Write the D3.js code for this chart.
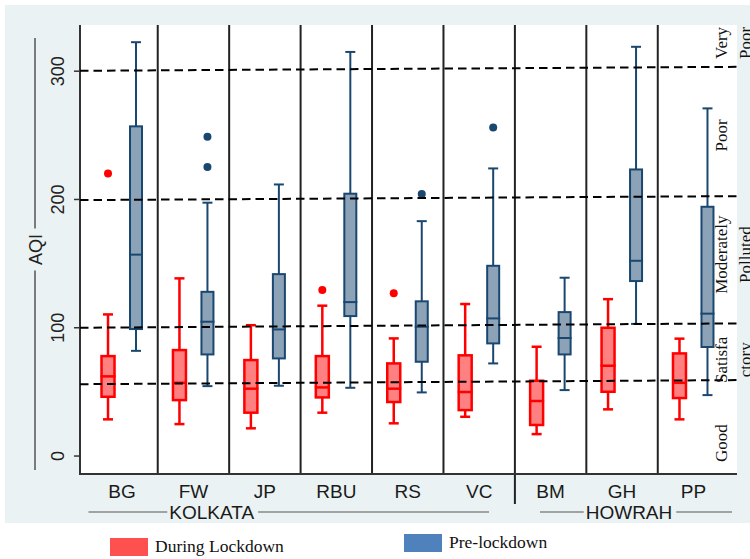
<!DOCTYPE html>
<html>
<head>
<meta charset="utf-8">
<script src="https://cdn.jsdelivr.net/npm/d3@7/dist/d3.min.js"></script>
<style>
  body { margin: 0; background: #fff; }
</style>
</head>
<body>
<div id="chart"></div>
<script>
// monitoring sites, grouped by city
const sites = ['BG', 'FW', 'JP', 'RBU', 'RS', 'VC', 'BM', 'GH', 'PP'];
const siteCity = ['KOLKATA', 'KOLKATA', 'KOLKATA', 'KOLKATA', 'KOLKATA', 'KOLKATA', 'HOWRAH', 'HOWRAH', 'HOWRAH'];
const cities = ['KOLKATA', 'HOWRAH'];

// [lower whisker, Q1, median, Q3, upper whisker]
const duringLockdown = [
    [28.6, 46.2, 62.1, 77.9, 110.4],
    [24.9, 43.6, 57.1, 82.6, 138.5],
    [21.6, 33.8, 52.5, 74.8, 102.0],
    [33.8, 45.7, 53.5, 77.9, 117.2],
    [25.5, 42.1, 52.5, 72.2, 91.7],
    [30.6, 35.8, 49.9, 78.5, 118.5],
    [17.1, 24.2, 42.9, 58.7, 85.2],
    [36.4, 50.1, 70.4, 100.0, 122.3],
    [28.6, 45.2, 57.1, 80.0, 91.5]
];
const preLockdown = [
    [82.0, 99.0, 157.0, 257.0, 322.6],
    [54.5, 79.2, 104.7, 128.0, 197.5],
    [54.8, 76.1, 98.7, 141.8, 211.7],
    [53.2, 109.1, 120.0, 204.5, 315.0],
    [49.6, 73.5, 100.8, 120.6, 183.1],
    [72.2, 87.8, 107.3, 148.3, 224.2],
    [51.4, 79.2, 92.0, 112.2, 139.0],
    [103.0, 136.4, 152.2, 223.4, 319.0],
    [47.5, 85.0, 111.0, 194.3, 271.0]
];
const duringOutliers = [[220.3], [], [], [129.4], [126.8], [], [], [], []];
const preOutliers = [[], [225.4, 248.8], [], [], [204.2], [256.1], [], [], []];

const yTicks = [0, 100, 200, 300];
// AQI category boundaries as drawn (left end, right end)
const refLines = [[56.0, 59.2], [100.0, 103.4], [199.5, 202.6], [300.3, 303.4]];
const bandLabels = [['Very', 'Poor'], ['Poor'], ['Moderately', 'Polluted'], ['Satisfa', 'ctory'], ['Good']];
const bandLabelAt = [322, 250, 157, 75, 10];
const seriesNames = ['During Lockdown', 'Pre-lockdown'];

const width = 750;
const height = 559;
const plot = { left: 80, right: 737, top: 25, bottom: 474 };

const svg = d3.select('#chart')
    .append('svg')
    .attr('width', width)
    .attr('height', height);

// graph region background
svg.append('rect')
    .attr('x', 5).attr('y', 5)
    .attr('width', width - 5).attr('height', 518)
    .attr('fill', '#eaf2f3');

svg.append('rect')
    .attr('x', plot.left).attr('y', plot.top)
    .attr('width', plot.right - plot.left).attr('height', plot.bottom - plot.top)
    .attr('fill', '#fff');

const x = d3.scaleBand()
    .domain(sites)
    .range([86.3, 729.2]);

const y = d3.scaleLinear()
    .domain([-14, 336])
    .range([plot.bottom, plot.top]);

const step = x.step();
const cx = s => x(s) + step / 2;

// separators between sites
svg.append('g')
    .selectAll('line')
    .data(sites.slice(1))
    .join('line')
    .attr('x1', d => x(d)).attr('x2', d => x(d))
    .attr('y1', plot.top)
    .attr('y2', (d, i) => siteCity[i + 1] !== siteCity[i] ? 504 : plot.bottom)
    .attr('stroke', '#222')
    .attr('stroke-width', 2);

// axes lines
svg.append('line')
    .attr('x1', plot.left).attr('x2', plot.left)
    .attr('y1', plot.top).attr('y2', plot.bottom + 1)
    .attr('stroke', '#333').attr('stroke-width', 2);
svg.append('line')
    .attr('x1', plot.left).attr('x2', plot.right)
    .attr('y1', plot.bottom).attr('y2', plot.bottom)
    .attr('stroke', '#333').attr('stroke-width', 2);

// y ticks
const yAxis = svg.append('g');
yAxis.selectAll('line')
    .data(yTicks)
    .join('line')
    .attr('x1', plot.left - 6).attr('x2', plot.left)
    .attr('y1', d => y(d)).attr('y2', d => y(d))
    .attr('stroke', '#333').attr('stroke-width', 1.5);
yAxis.selectAll('text')
    .data(yTicks)
    .join('text')
    .attr('transform', d => `translate(64,${y(d)}) rotate(-90)`)
    .attr('text-anchor', 'middle')
    .style('font-family', 'Arial, "Liberation Sans", sans-serif')
    .style('font-size', '18px')
    .attr('fill', '#222')
    .text(d => d);

// y title with Stata-style rule
const titleY = (plot.top + plot.bottom) / 2;
svg.append('text')
    .attr('transform', `translate(42,${titleY}) rotate(-90)`)
    .attr('text-anchor', 'middle')
    .style('font-family', 'Arial, "Liberation Sans", sans-serif')
    .style('font-size', '18px')
    .attr('fill', '#222')
    .text('AQI');
[[38, titleY - 21], [titleY + 21, 470]].forEach(([a, b]) => {
    svg.append('line')
        .attr('x1', 35).attr('x2', 35)
        .attr('y1', a).attr('y2', b)
        .attr('stroke', '#555').attr('stroke-width', 1.5);
});

// box plots
const series = [
    { stats: duringLockdown, outliers: duringOutliers, offset: -14, stroke: '#ff0000', fill: '#ff8080', sw: 2.5, boxW: 13 },
    { stats: preLockdown, outliers: preOutliers, offset: 14, stroke: '#1a476f', fill: '#8ca3b7', sw: 2, boxW: 12 }
];

series.forEach(s => {
    const g = svg.append('g');
    const rows = sites.map((site, i) => ({ site, st: s.stats[i], out: s.outliers[i] }));
    const box = g.selectAll('g')
        .data(rows)
        .join('g')
        .attr('transform', d => `translate(${cx(d.site) + s.offset},0)`);

    // whiskers
    box.append('line')
        .attr('y1', d => y(d.st[4])).attr('y2', d => y(d.st[3]))
        .attr('stroke', s.stroke).attr('stroke-width', s.sw);
    box.append('line')
        .attr('y1', d => y(d.st[1])).attr('y2', d => y(d.st[0]))
        .attr('stroke', s.stroke).attr('stroke-width', s.sw);
    // caps
    [0, 4].forEach(k => {
        box.append('line')
            .attr('x1', -5).attr('x2', 5)
            .attr('y1', d => y(d.st[k])).attr('y2', d => y(d.st[k]))
            .attr('stroke', s.stroke).attr('stroke-width', s.sw);
    });
    box.append('rect')
        .attr('x', -s.boxW / 2)
        .attr('width', s.boxW)
        .attr('y', d => y(d.st[3]))
        .attr('height', d => y(d.st[1]) - y(d.st[3]))
        .attr('fill', s.fill)
        .attr('stroke', s.stroke)
        .attr('stroke-width', s.sw);
    box.append('line')
        .attr('x1', -s.boxW / 2 - 1).attr('x2', s.boxW / 2 + 1)
        .attr('y1', d => y(d.st[2])).attr('y2', d => y(d.st[2]))
        .attr('stroke', s.stroke).attr('stroke-width', s.sw);
    box.selectAll('circle')
        .data(d => d.out)
        .join('circle')
        .attr('cy', d => y(d))
        .attr('r', 4)
        .attr('fill', s.stroke);
});

// AQI category boundaries
svg.append('g')
    .selectAll('line')
    .data(refLines)
    .join('line')
    .attr('x1', plot.left).attr('x2', plot.right)
    .attr('y1', d => y(d[0])).attr('y2', d => y(d[1]))
    .attr('stroke', '#000')
    .attr('stroke-width', 2)
    .attr('stroke-dasharray', '8.5,5');

// AQI category labels on the right
const bandG = svg.append('g')
    .style('font-family', '"Times New Roman", "Liberation Serif", serif')
    .style('font-size', '17px')
    .attr('fill', '#111');
bandLabels.forEach((lines, i) => {
    lines.forEach((t, j) => {
        bandG.append('text')
            .attr('transform', `translate(${727 + j * 24},${y(bandLabelAt[i])}) rotate(-90)`)
            .attr('text-anchor', 'middle')
            .text(t);
    });
});

// site labels
svg.append('g')
    .selectAll('text')
    .data(sites)
    .join('text')
    .attr('x', d => cx(d))
    .attr('y', 498)
    .attr('text-anchor', 'middle')
    .style('font-family', 'Arial, "Liberation Sans", sans-serif')
    .style('font-size', '19px')
    .attr('fill', '#1a1a1a')
    .text(d => d);

// city group labels with rules either side
const groupLayout = {
    KOLKATA: { from: 88.5, to: 489, textX: 211.7 },
    HOWRAH: { from: 540, to: 732, textX: 629 }
};
cities.forEach(c => {
    const lay = groupLayout[c];
    const t = svg.append('text')
        .attr('x', lay.textX)
        .attr('y', 519)
        .attr('text-anchor', 'middle')
        .style('font-family', 'Arial, "Liberation Sans", sans-serif')
        .style('font-size', '19px')
        .attr('fill', '#1a1a1a')
        .text(c);
    const w = t.node().getComputedTextLength();
    [[lay.from, lay.textX - w / 2 - 2], [lay.textX + w / 2 + 4, lay.to]].forEach(([a, b]) => {
        svg.append('line')
            .attr('x1', a).attr('x2', b)
            .attr('y1', 512).attr('y2', 512)
            .attr('stroke', '#555').attr('stroke-width', 1.2);
    });
});

// legend
const legendLayout = [
    { x: 110, y: 538, fill: '#ff5050' },
    { x: 404, y: 534, fill: '#4f81bd' }
];
const legend = svg.append('g')
    .selectAll('g')
    .data(seriesNames)
    .join('g')
    .attr('transform', (d, i) => `translate(${legendLayout[i].x},${legendLayout[i].y})`);
legend.append('rect')
    .attr('width', 38).attr('height', 18)
    .attr('fill', (d, i) => legendLayout[i].fill);
legend.append('text')
    .attr('x', 45).attr('y', 14)
    .style('font-family', '"Times New Roman", "Liberation Serif", serif')
    .style('font-size', '17.5px')
    .attr('fill', '#111')
    .text(d => d);
</script>
</body>
</html>
